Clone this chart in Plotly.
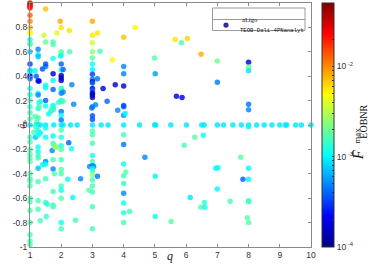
import math
import plotly.graph_objects as go

# ---- data: mass ratio q, spin a0, log10(F_max) ----
# column q = 1
q_c1 = [1, 1, 1, 1, 1, 1, 1, 1, 1, 1, 1,
        1, 1, 1, 1, 1, 1, 1, 1, 1, 1, 1,
        1, 1, 1, 1, 1, 1, 1, 1, 1, 1, 1,
        1, 1, 1, 1, 1, 1, 1, 1, 1, 1, 1]
a_c1 = [1.0, 0.99, 0.98, 0.97, 0.96, 0.9, 0.85, 0.8, 0.76, 0.75, 0.7,
        0.67, 0.66, 0.6, 0.5, 0.45, 0.44, 0.42, 0.4, 0.38, 0.3, 0.25,
        0.2, 0.15, 0.1, 0.05, 0.0, -0.1, -0.14, -0.2, -0.24, -0.27, -0.3,
        -0.4, -0.44, -0.46, -0.5, -0.6, -0.63, -0.7, -0.8, -0.9, -0.95, -0.98]
f_c1 = [-1.55, -1.6, -1.6, -1.65, -1.7, -1.9, -2.0, -2.15, -2.4, -2.3, -2.95,
        -2.82, -2.78, -3.1, -3.5, -3.0, -3.1, -3.0, -3.85, -3.4, -2.95, -2.95,
        -2.8, -2.85, -2.82, -2.8, -3.05, -2.82, -2.8, -2.78, -2.8, -2.78, -2.78,
        -2.78, -2.8, -2.78, -2.78, -2.78, -2.78, -2.78, -2.78, -2.78, -2.78, -2.78]

# 1 < q <= 1.5
q_c2 = [1.20, 1.16, 1.26, 1.26, 1.26, 1.26, 1.29,
        1.26, 1.26, 1.29, 1.33, 1.26, 1.29, 1.16,
        1.26, 1.22, 1.20, 1.26, 1.33, 1.18, 1.26,
        1.12, 1.29, 1.18, 1.26, 1.33, 1.26, 1.26,
        1.26, 1.26, 1.26, 1.26, 1.26, 1.26, 1.33,
        1.40, 1.47, 1.40, 1.50, 1.50, 1.50, 1.50,
        1.50, 1.50, 1.50, 1.50, 1.45, 1.50, 1.50]
a_c2 = [0.40, 0.445, 0.62, 0.575, 0.56, 0.36, 0.36,
        0.26, 0.245, 0.185, 0.19, 0.135, 0.15, 0.07,
        0.06, 0.025, 0.005, 0.0, 0.0, -0.015, -0.045,
        -0.06, -0.065, -0.1, -0.085, -0.065, -0.18, -0.22,
        -0.25, -0.27, -0.355, -0.465, -0.62, -0.69, -0.785,
        -0.325, -0.32, 0.46, 0.48, 0.50, 0.305, 0.325,
        0.2, 0.155, 0.0, -0.025, 0.735, 0.95, 0.68]
f_c2 = [-3.4, -3.0, -3.3, -3.05, -3.15, -3.7, -3.7,
        -2.95, -3.3, -2.95, -2.9, -2.95, -2.78, -2.78,
        -2.78, -2.8, -2.95, -3.05, -3.05, -2.8, -2.95,
        -2.8, -2.85, -3.15, -2.95, -2.95, -2.95, -2.95,
        -2.82, -2.8, -3.15, -2.8, -2.8, -2.8, -2.8,
        -2.95, -2.95, -3.45, -3.35, -3.45, -3.0, -2.95,
        -3.4, -2.95, -3.05, -2.95, -2.45, -2.15, -2.7]

# 1.5 <= q < 2
q_c3 = [1.50, 1.50, 1.50, 1.50, 1.50, 1.55, 1.52,
        1.60, 1.66, 1.74, 1.74, 1.74, 1.74, 1.74,
        1.74, 1.74, 1.74, 1.74, 1.70, 1.76, 1.74,
        1.71, 1.74, 1.77, 1.85, 1.80, 1.74, 1.74,
        1.78, 1.74, 1.74, 1.74, 1.86, 1.91, 1.97]
a_c3 = [-0.1, -0.3, -0.32, -0.44, -0.635, -0.65, -0.75,
        0.09, 0.11, 0.66, 0.68, 0.545, 0.42, 0.365,
        0.29, 0.16, 0.14, 0.125, 0.135, 0.0, -0.09,
        -0.21, -0.15, -0.165, -0.18, -0.18, -0.285, -0.36,
        -0.4, -0.545, -0.655, -0.67, 0.755, 0.185, 0.85]
f_c3 = [-2.95, -3.3, -2.95, -2.8, -2.82, -2.9, -2.85,
        -2.95, -2.9, -2.78, -2.78, -2.95, -3.8, -3.0,
        -3.4, -3.0, -2.95, -2.95, -2.8, -3.05, -3.0,
        -3.3, -2.8, -2.75, -2.45, -2.65, -2.8, -3.3,
        -2.78, -2.8, -2.8, -2.8, -2.4, -2.8, -2.1]

# column q = 2
q_c4 = [2.0, 2.0, 2.0, 1.98, 2.0, 2.0, 2.0,
        2.0, 2.0, 2.0, 2.0, 2.0, 2.0, 2.0,
        2.0, 2.0, 2.0, 2.0, 2.0, 2.0, 2.0,
        2.0, 2.0, 2.0, 2.0, 2.0, 2.0, 2.0,
        2.0, 2.0, 2.06, 2.06, 2.06, 2.06, 2.26]
a_c4 = [0.8, 0.6, 0.575, 0.565, 0.5, 0.45, 0.405,
        0.385, 0.365, 0.3, 0.29, 0.26, 0.2, 0.19,
        0.11, 0.08, 0.04, 0.0, -0.04, -0.1, -0.17,
        -0.2, -0.285, -0.365, -0.4, -0.5, -0.535, -0.6,
        -0.8, -0.85, 0.455, 0.27, 0.195, 0.0, 0.775]
f_c4 = [-2.25, -2.75, -2.8, -3.0, -3.4, -3.0, -3.85,
        -3.85, -3.8, -2.95, -2.8, -3.3, -2.95, -2.9,
        -3.35, -3.0, -3.35, -3.05, -2.78, -2.9, -2.95,
        -2.78, -2.8, -2.78, -2.78, -2.8, -2.95, -2.78,
        -2.95, -2.8, -3.4, -3.3, -2.78, -3.05, -2.25]

# 2 < q < 3
q_c5 = [2.27, 2.24, 2.21, 2.34, 2.33, 2.37, 2.40,
        2.30, 2.51, 2.46, 2.62, 2.89, 2.91, 3.04]
a_c5 = [0.6, -0.145, -0.445, 0.33, -0.195, -0.595, 0.17,
        0.0, 0.0, -0.78, -0.44, -0.535, -0.34, -0.34]
f_c5 = [-2.8, -3.4, -2.95, -3.3, -2.95, -3.0, -3.3,
        -3.05, -3.05, -2.8, -3.3, -2.75, -3.3, -3.3]

# column q = 3
q_c6 = [3.0, 3.0, 3.0, 3.0, 3.0, 3.0, 3.0,
        3.0, 3.0, 3.0, 3.0, 3.0, 3.0, 3.0,
        3.0, 3.0, 3.0, 2.98, 3.0, 3.0, 3.0,
        3.0, 3.0, 3.0, 3.0, 3.0, 3.0, 3.0,
        3.0, 3.0, 3.0, 3.0, 3.0, 3.0, 3.0]
a_c6 = [0.85, 0.735, 0.675, 0.6, 0.55, 0.5, 0.455,
        0.415, 0.375, 0.355, 0.345, 0.3, 0.28, 0.26,
        0.245, 0.225, 0.15, 0.14, 0.075, 0.045, 0.0,
        -0.05, -0.08, -0.15, -0.25, -0.3, -0.335, -0.355,
        -0.375, -0.41, -0.45, -0.5, -0.55, -0.67, -0.85]
f_c6 = [-2.1, -2.25, -2.45, -2.6, -2.75, -2.95, -3.0,
        -3.5, -3.35, -3.8, -3.4, -3.8, -3.4, -3.8,
        -3.85, -3.85, -3.35, -3.35, -3.45, -3.45, -3.05,
        -2.78, -2.8, -2.8, -2.95, -2.8, -3.35, -3.0,
        -2.85, -2.62, -2.8, -2.8, -2.8, -2.8, -2.8]

# 3 < q < 4
q_c7 = [3.16, 3.24, 3.16, 3.10, 3.34, 3.28, 3.16,
        3.50, 3.47, 3.64, 3.73, 3.81]
a_c7 = [0.755, 0.605, 0.38, 0.165, 0.3, 0.0, -0.42,
        0.0, 0.195, 0.535, 0.33, 0.12]
f_c7 = [-2.25, -2.8, -3.35, -3.3, -3.75, -3.05, -3.35,
        -3.05, -3.4, -2.3, -3.75, -3.3]

# around q = 4
q_c8 = [4.0, 4.0, 4.0, 4.0, 4.0, 4.0, 4.0,
        4.05, 4.0, 4.0, 4.0, 4.0, 4.07, 4.0,
        4.0, 4.0, 4.0, 4.0, 4.0, 4.19, 4.37,
        4.51, 4.68]
a_c8 = [0.72, 0.48, 0.42, 0.32, 0.16, 0.15, 0.08,
        0.095, 0.0, -0.08, -0.16, -0.32, -0.385, -0.415,
        -0.48, -0.56, -0.64, -0.72, -0.8, -0.71, 0.8,
        0.0, -0.265]
f_c8 = [-2.15, -3.3, -3.3, -3.75, -3.45, -3.45, -3.3,
        -3.0, -3.05, -2.8, -3.35, -2.95, -2.75, -2.8,
        -2.85, -3.3, -2.95, -2.9, -2.8, -2.8, -2.3,
        -3.05, -3.3]

# 5 <= q < 7
q_c9 = [4.99, 5.01, 4.99, 5.03, 5.01, 5.01, 5.51,
        5.52, 5.65, 5.69, 5.85, 5.87, 5.94, 6.01,
        6.04, 6.13, 6.28, 6.48, 6.50, 6.58, 6.47,
        6.55, 6.59, 6.60]
a_c9 = [0.55, 0.42, 0.0, 0.0, -0.42, -0.75, 0.0,
        -0.79, 0.7, 0.235, 0.675, 0.225, -0.165, 0.0,
        0.71, -0.595, -0.1, 0.58, 0.0, 0.0, -0.675,
        -0.085, -0.635, -0.675]
f_c9 = [-2.75, -3.25, -3.05, -3.05, -3.0, -2.95, -3.05,
        -2.75, -2.25, -3.75, -2.78, -3.75, -2.8, -3.05,
        -2.2, -3.05, -2.75, -2.1, -3.05, -3.05, -2.75,
        -2.95, -2.85, -2.95]

# 7 <= q <= 10
q_c10 = [7.0, 7.0, 6.95, 7.02, 7.0, 7.0, 7.2,
         7.41, 7.5, 7.75, 7.77, 7.82, 7.96, 8.0,
         8.0, 8.0, 8.0, 8.0, 8.0, 8.0, 8.0,
         8.0, 8.0, 8.0, 8.0, 8.26, 8.5, 8.75,
         9.0, 9.18, 9.22, 9.51, 9.69, 10.0]
a_c10 = [0.525, 0.35, -0.355, -0.35, -0.525, 0.0, 0.0,
         -0.625, 0.0, -0.265, 0.0, -0.445, -0.76, 0.515,
         0.475, 0.445, 0.17, 0.125, 0.0, -0.015, -0.355,
         -0.445, -0.62, -0.63, -0.8, 0.0, 0.0, 0.0,
         0.0, 0.0, 0.0, 0.0, 0.0, 0.0]
f_c10 = [-2.7, -3.35, -3.0, -3.0, -3.0, -3.05, -3.05,
         -2.8, -3.05, -2.75, -3.05, -3.4, -2.75, -3.75,
         -2.7, -3.05, -3.35, -3.3, -3.05, -3.0, -3.0,
         -3.0, -2.8, -2.85, -2.75, -3.05, -3.05, -3.05,
         -3.05, -3.05, -3.05, -3.05, -3.05, -3.05]

legend_title = "aLigo"
series_name = "TEOB-Dali-4PNanalyt"

groups = [(q_c1, a_c1, f_c1), (q_c2, a_c2, f_c2), (q_c3, a_c3, f_c3),
          (q_c4, a_c4, f_c4), (q_c5, a_c5, f_c5), (q_c6, a_c6, f_c6),
          (q_c7, a_c7, f_c7), (q_c8, a_c8, f_c8), (q_c9, a_c9, f_c9),
          (q_c10, a_c10, f_c10)]
q_all, a_all, f_all = [], [], []
for gq, ga, gf in groups:
    assert len(gq) == len(ga) == len(gf), (len(gq), len(ga), len(gf))
    q_all += gq
    a_all += ga
    f_all += gf

x_ticks = [1, 2, 3, 4, 5, 6, 7, 8, 9, 10]
y_ticks = [-1, -0.8, -0.6, -0.4, -0.2, 0, 0.2, 0.4, 0.6, 0.8, 1]
y_ticktext = ["-1", "-0.8", "-0.6", "-0.4", "-0.2", "0", "0.2", "0.4", "0.6", "0.8", "1"]
cb_major = [-4, -3, -2]
cb_major_text = ["10<sup> -4</sup>", "10<sup> -3</sup>", "10<sup> -2</sup>"]
cb_min, cb_max = -4.0, -1.3

cb_vals, cb_text = [], []
for d in cb_major:
    for m in range(1, 10):
        v = d + math.log10(m)
        if v <= cb_max:
            cb_vals.append(v)
            cb_text.append(cb_major_text[cb_major.index(d)] if m == 1 else " ")

jet = [[0.0, "rgb(0,0,130)"], [0.125, "rgb(0,0,255)"], [0.375, "rgb(0,255,255)"],
       [0.625, "rgb(255,255,0)"], [0.875, "rgb(255,0,0)"], [1.0, "rgb(128,0,0)"]]

# plot-area geometry in pixels
W, H = 374, 271
L, R, T, B = 30, 311, 3, 246.7


def px_to_paper(px, py):
    return (px - L) / (R - L), (B - py) / (B - T)


fig = go.Figure()
cbx, _ = px_to_paper(322, 0)
fig.add_trace(go.Scatter(
    x=q_all, y=a_all, mode="markers", showlegend=False, cliponaxis=False,
    name=series_name,
    marker=dict(size=5.5, color=f_all, colorscale=jet, cmin=cb_min, cmax=cb_max,
                opacity=0.82, line=dict(width=0),
                colorbar=dict(thickness=11.5, thicknessmode="pixels",
                              len=1.0, lenmode="fraction",
                              x=cbx, xanchor="left", y=0.5, yanchor="middle",
                              xpad=0, ypad=0,
                              outlinewidth=1, outlinecolor="#333333",
                              tickvals=cb_vals, ticktext=cb_text,
                              ticks="inside", ticklen=2.5, tickcolor="#333333",
                              tickfont=dict(family="Liberation Sans", size=8.5, color="#333333"))),
))

axis_common = dict(showgrid=False, zeroline=False, showline=True, linecolor="#8a8a8a",
                   linewidth=1, mirror="ticks", ticks="inside", ticklen=3,
                   tickcolor="#8a8a8a",
                   tickfont=dict(family="Liberation Sans", size=8.5, color="#333333"))
fig.update_xaxes(range=[1, 10], tickvals=x_ticks, **axis_common)
fig.update_yaxes(range=[-1, 1], tickvals=y_ticks, ticktext=y_ticktext, **axis_common)

fig.update_layout(
    width=W, height=H,
    margin=dict(l=L, r=W - R, t=T, b=H - B, autoexpand=False),
    paper_bgcolor="white", plot_bgcolor="white", showlegend=False,
)

# ---- legend box (drawn as a small table like the original) ----
bx0, by0 = px_to_paper(212.5, 8)
bx1, by1 = px_to_paper(305, 30.5)
_, bym = px_to_paper(0, 19.5)
fig.add_shape(type="rect", xref="paper", yref="paper", x0=bx0, y0=by0, x1=bx1, y1=by1,
              line=dict(color="#9a9a9a", width=1), fillcolor="white", layer="above")
fig.add_shape(type="line", xref="paper", yref="paper", x0=bx0, y0=bym, x1=bx1, y1=bym,
              line=dict(color="#9a9a9a", width=1), layer="above")
cx, cy = px_to_paper(226, 25)
rx = 2.6 / (R - L)
ry = 2.6 / (B - T)
fig.add_shape(type="circle", xref="paper", yref="paper", x0=cx - rx, y0=cy - ry,
              x1=cx + rx, y1=cy + ry, line=dict(width=0), fillcolor="#2e2e9e", layer="above")
tx, ty = px_to_paper(259, 14)
fig.add_annotation(text=legend_title, xref="paper", yref="paper", x=tx, y=ty,
                   showarrow=False, font=dict(family="Liberation Serif", size=6.5, color="#111111"))
sx, sy = px_to_paper(237.5, 25)
fig.add_annotation(text=series_name, xref="paper", yref="paper", x=sx, y=sy,
                   xanchor="left", showarrow=False,
                   font=dict(family="Liberation Mono", size=5.6, color="#111111"))

serif = "Liberation Serif"
qx, qy = px_to_paper(170, 265)
fig.add_annotation(text="<i>q</i>", xref="paper", yref="paper", x=qx, y=qy,
                   showarrow=False, font=dict(family=serif, size=12, color="#222222"))
ax_, ay_ = px_to_paper(14, 124)
fig.add_annotation(text="<i>ã</i><sub>0</sub>", xref="paper", yref="paper", x=ax_, y=ay_,
                   textangle=-90, showarrow=False,
                   font=dict(family=serif, size=10, color="#222222"))
# colour-bar title  F̄^max_EOBNR
fx, fy = px_to_paper(368, 155)
fig.add_annotation(text="<i>F̄</i>", xref="paper", yref="paper", x=fx, y=fy,
                   textangle=-90, showarrow=False,
                   font=dict(family=serif, size=15, color="#111111"))
mx, my = px_to_paper(364.5, 136)
fig.add_annotation(text="max", xref="paper", yref="paper", x=mx, y=my,
                   textangle=-90, showarrow=False,
                   font=dict(family=serif, size=9, color="#111111"))
ex, ey = px_to_paper(371, 122)
fig.add_annotation(text="EOBNR", xref="paper", yref="paper", x=ex, y=ey,
                   textangle=-90, showarrow=False,
                   font=dict(family=serif, size=10, color="#111111"))

fig.write_html("out.html", config={"displayModeBar": False},
               post_script="document.body.style.margin='0px';"
               "document.body.style.padding='0px';")
